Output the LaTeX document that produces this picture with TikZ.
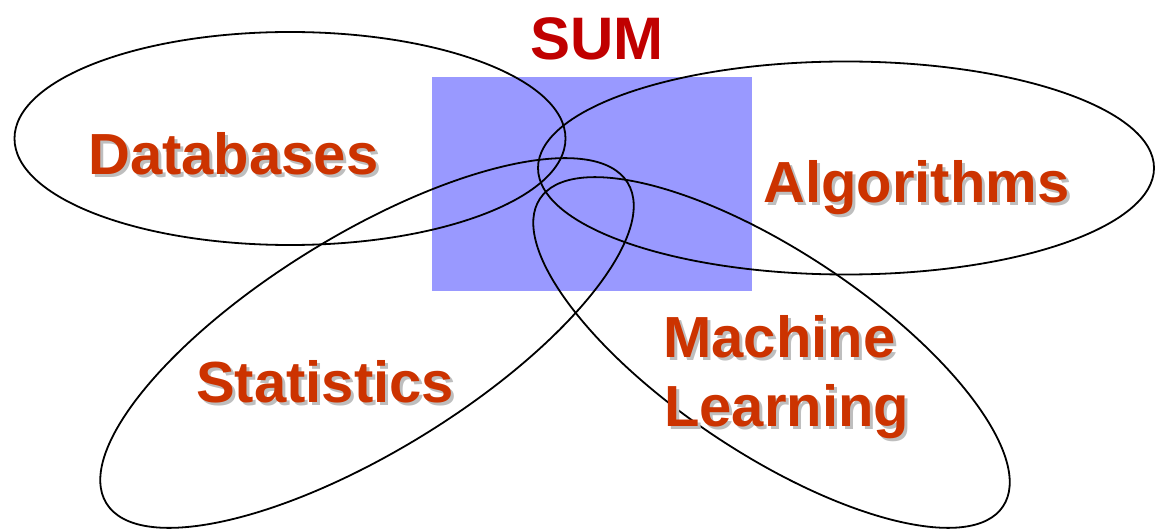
\documentclass[tikz,border=0pt]{standalone}
\usepackage{fontspec}
\setmainfont{Liberation Sans}
\usetikzlibrary{shapes.geometric}
\definecolor{sumred}{RGB}{192,0,0}
\definecolor{labred}{RGB}{204,51,0}
\definecolor{boxblue}{RGB}{153,153,255}
\definecolor{shadowgray}{RGB}{190,190,190}
\newcommand\shadowtext[1]{\makebox[0pt][l]{\kern3pt\raisebox{-3pt}{\color{shadowgray}#1}}#1}
\begin{document}
\begin{tikzpicture}[x=1pt,y=-1pt,
  oval/.style={draw=black, line width=1.8pt, ellipse, inner sep=0pt},
  lbl/.style={font=\fontsize{58}{71}\selectfont\bfseries, anchor=base west, inner sep=0pt, text=labred}]
\useasboundingbox (0,0) rectangle (1155,529);
\node[fill=boxblue, minimum width=320pt, minimum height=214pt, inner sep=0pt, anchor=north west] (sq) at (432,77) {};
\node[oval, minimum width=551pt, minimum height=213pt] (edb) at (290,138.5) {};
\node[oval, minimum width=616pt, minimum height=213pt] (ealg) at (846,168) {};
\node[oval, minimum width=612pt, minimum height=216pt, rotate=31.6] (estat) at (367,343) {};
\node[oval, minimum width=556pt, minimum height=202pt, rotate=-33.6] (eml) at (771.5,352.5) {};
% labels
\node[font=\fontsize{60}{72}\selectfont\bfseries, text=sumred, anchor=base west, inner sep=0pt] (sum) at (530,60) {SUM};
\node[lbl] (db) at (88,175) {\shadowtext{Databases}};
\node[lbl] (alg) at (763,203) {\shadowtext{Algorithms}};
\node[lbl] (stat) at (196,402) {\shadowtext{Statistics}};
\node[lbl] (mach) at (663,357) {\shadowtext{Machine}};
\node[lbl] (learn) at (664,426) {\shadowtext{Learning}};
\end{tikzpicture}
\end{document}
